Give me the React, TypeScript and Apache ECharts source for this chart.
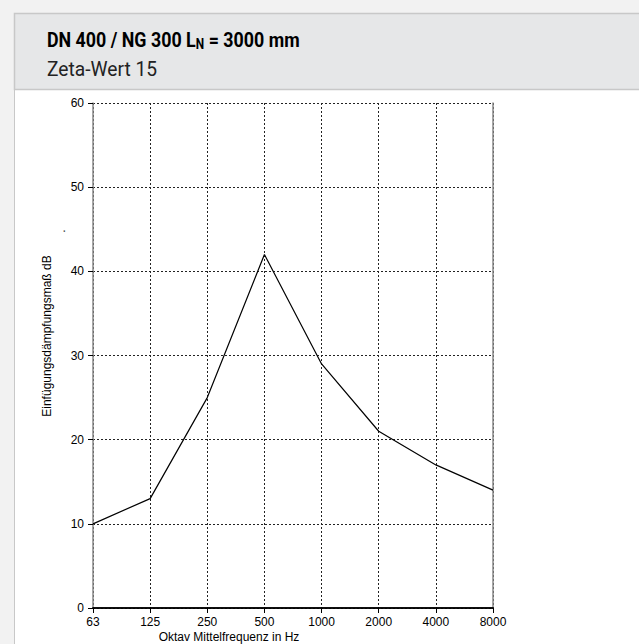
import React, { useEffect, useRef } from "react";
import * as echarts from "echarts";

const frequencies = ["63", "125", "250", "500", "1000", "2000", "4000", "8000"];
const insertionLoss = [10, 13, 25, 42, 29, 21, 17, 14];
const yTicks = { min: 0, max: 60, interval: 10 };
const titleMain = "DN 400 / NG 300 L";
const titleSub = "N";
const titleTail = " = 3000 mm";
const subtitle = "Zeta-Wert 15";
const yName = "Einfügungsdämpfungsmaß dB";
const xName = "Oktav Mittelfrequenz in Hz";

const headFont = "Roboto, 'Noto Sans', sans-serif";
const arial = "'Liberation Sans', Arial, sans-serif";

export default function App() {
  const ref = useRef<HTMLDivElement>(null);
  useEffect(() => {
    if (!ref.current) return;
    const chart = echarts.init(ref.current, undefined, { renderer: "svg" });
    chart.setOption({
      animation: false,
      backgroundColor: "#f2f2f2",
      graphic: [
        {
          type: "rect",
          z: -10,
          silent: true,
          shape: { x: 14.5, y: 13.5, width: 700, height: 700 },
          style: { fill: "#ffffff", stroke: "#c8c8c8", lineWidth: 1 },
        },
        {
          type: "rect",
          z: -9,
          silent: true,
          shape: { x: 14.5, y: 13.5, width: 700, height: 76 },
          style: { fill: "#e6e7e8", stroke: "#c8c8c8", lineWidth: 1.5 },
        },
        {
          type: "text",
          x: 47,
          y: 40,
          scaleX: 0.85,
          style: {
            text: `{b|${titleMain}}{s|${titleSub}}{b|${titleTail}}`,
            textAlign: "left",
            textVerticalAlign: "middle",
            rich: {
              b: { font: `bold 21px ${headFont}`, fill: "#000", lineHeight: 24 },
              s: { font: `bold 14px ${headFont}`, fill: "#000", lineHeight: 24, padding: [9, 0, 0, 0] },
            },
          },
        },
        {
          type: "text",
          x: 47,
          y: 69,
          scaleX: 0.96,
          style: {
            text: subtitle,
            font: `20px ${headFont}`,
            fill: "#222",
            textAlign: "left",
            textVerticalAlign: "middle",
          },
        },
        {
          type: "text",
          x: 47,
          y: 336,
          rotation: Math.PI / 2,
          style: { text: yName, font: `12px ${arial}`, fill: "#000", textAlign: "center", textVerticalAlign: "middle" },
        },
        {
          type: "text",
          x: 61,
          y: 231,
          rotation: Math.PI / 2,
          style: { text: ".", font: `12px ${arial}`, fill: "#000", textAlign: "center", textVerticalAlign: "middle" },
        },
        {
          type: "text",
          x: 229,
          y: 631,
          style: { text: xName, font: `12px ${arial}`, fill: "#000", textAlign: "center", textVerticalAlign: "top" },
        },
      ],
      grid: { left: 93, right: 146, top: 103, bottom: 36 },
      xAxis: [
        {
          type: "category",
          data: frequencies,
          boundaryGap: false,
          position: "bottom",
          axisLine: { show: true, lineStyle: { color: "#000", width: 1.5 } },
          axisTick: { show: true, length: 5, inside: false, lineStyle: { color: "#000" } },
          axisLabel: { fontFamily: arial, fontSize: 12, color: "#000", margin: 8 },
          splitLine: { show: true, lineStyle: { color: "#222", type: [2, 2], width: 1 } },
        },
        {
          type: "category",
          data: frequencies,
          boundaryGap: false,
          position: "top",
          axisLine: { show: true, lineStyle: { color: "#000", width: 1.5 } },
          axisTick: { show: false },
          axisLabel: { show: false },
          splitLine: { show: false },
        },
      ],
      yAxis: [
        {
          type: "value",
          min: yTicks.min,
          max: yTicks.max,
          interval: yTicks.interval,
          position: "left",
          axisLine: { show: true, lineStyle: { color: "#888", width: 1.5 } },
          axisTick: { show: true, length: 5, inside: false, lineStyle: { color: "#000" } },
          axisLabel: { fontFamily: arial, fontSize: 12, color: "#000", margin: 9 },
          splitLine: { show: true, lineStyle: { color: "#222", type: [2, 2], width: 1 } },
        },
        {
          type: "value",
          min: yTicks.min,
          max: yTicks.max,
          interval: yTicks.interval,
          position: "right",
          axisLine: { show: true, lineStyle: { color: "#888", width: 1.5 } },
          axisTick: { show: false },
          axisLabel: { show: false },
          splitLine: { show: false },
        },
      ],
      series: [
        {
          type: "line",
          data: insertionLoss,
          xAxisIndex: 0,
          yAxisIndex: 0,
          showSymbol: false,
          symbol: "none",
          lineStyle: { color: "#000", width: 1.2 },
          z: 5,
        },
      ],
    });
    return () => chart.dispose();
  }, []);
  return (
    <div
      ref={ref}
      style={{ position: "fixed", left: 0, top: 0, width: 639, height: 644 }}
    />
  );
}
